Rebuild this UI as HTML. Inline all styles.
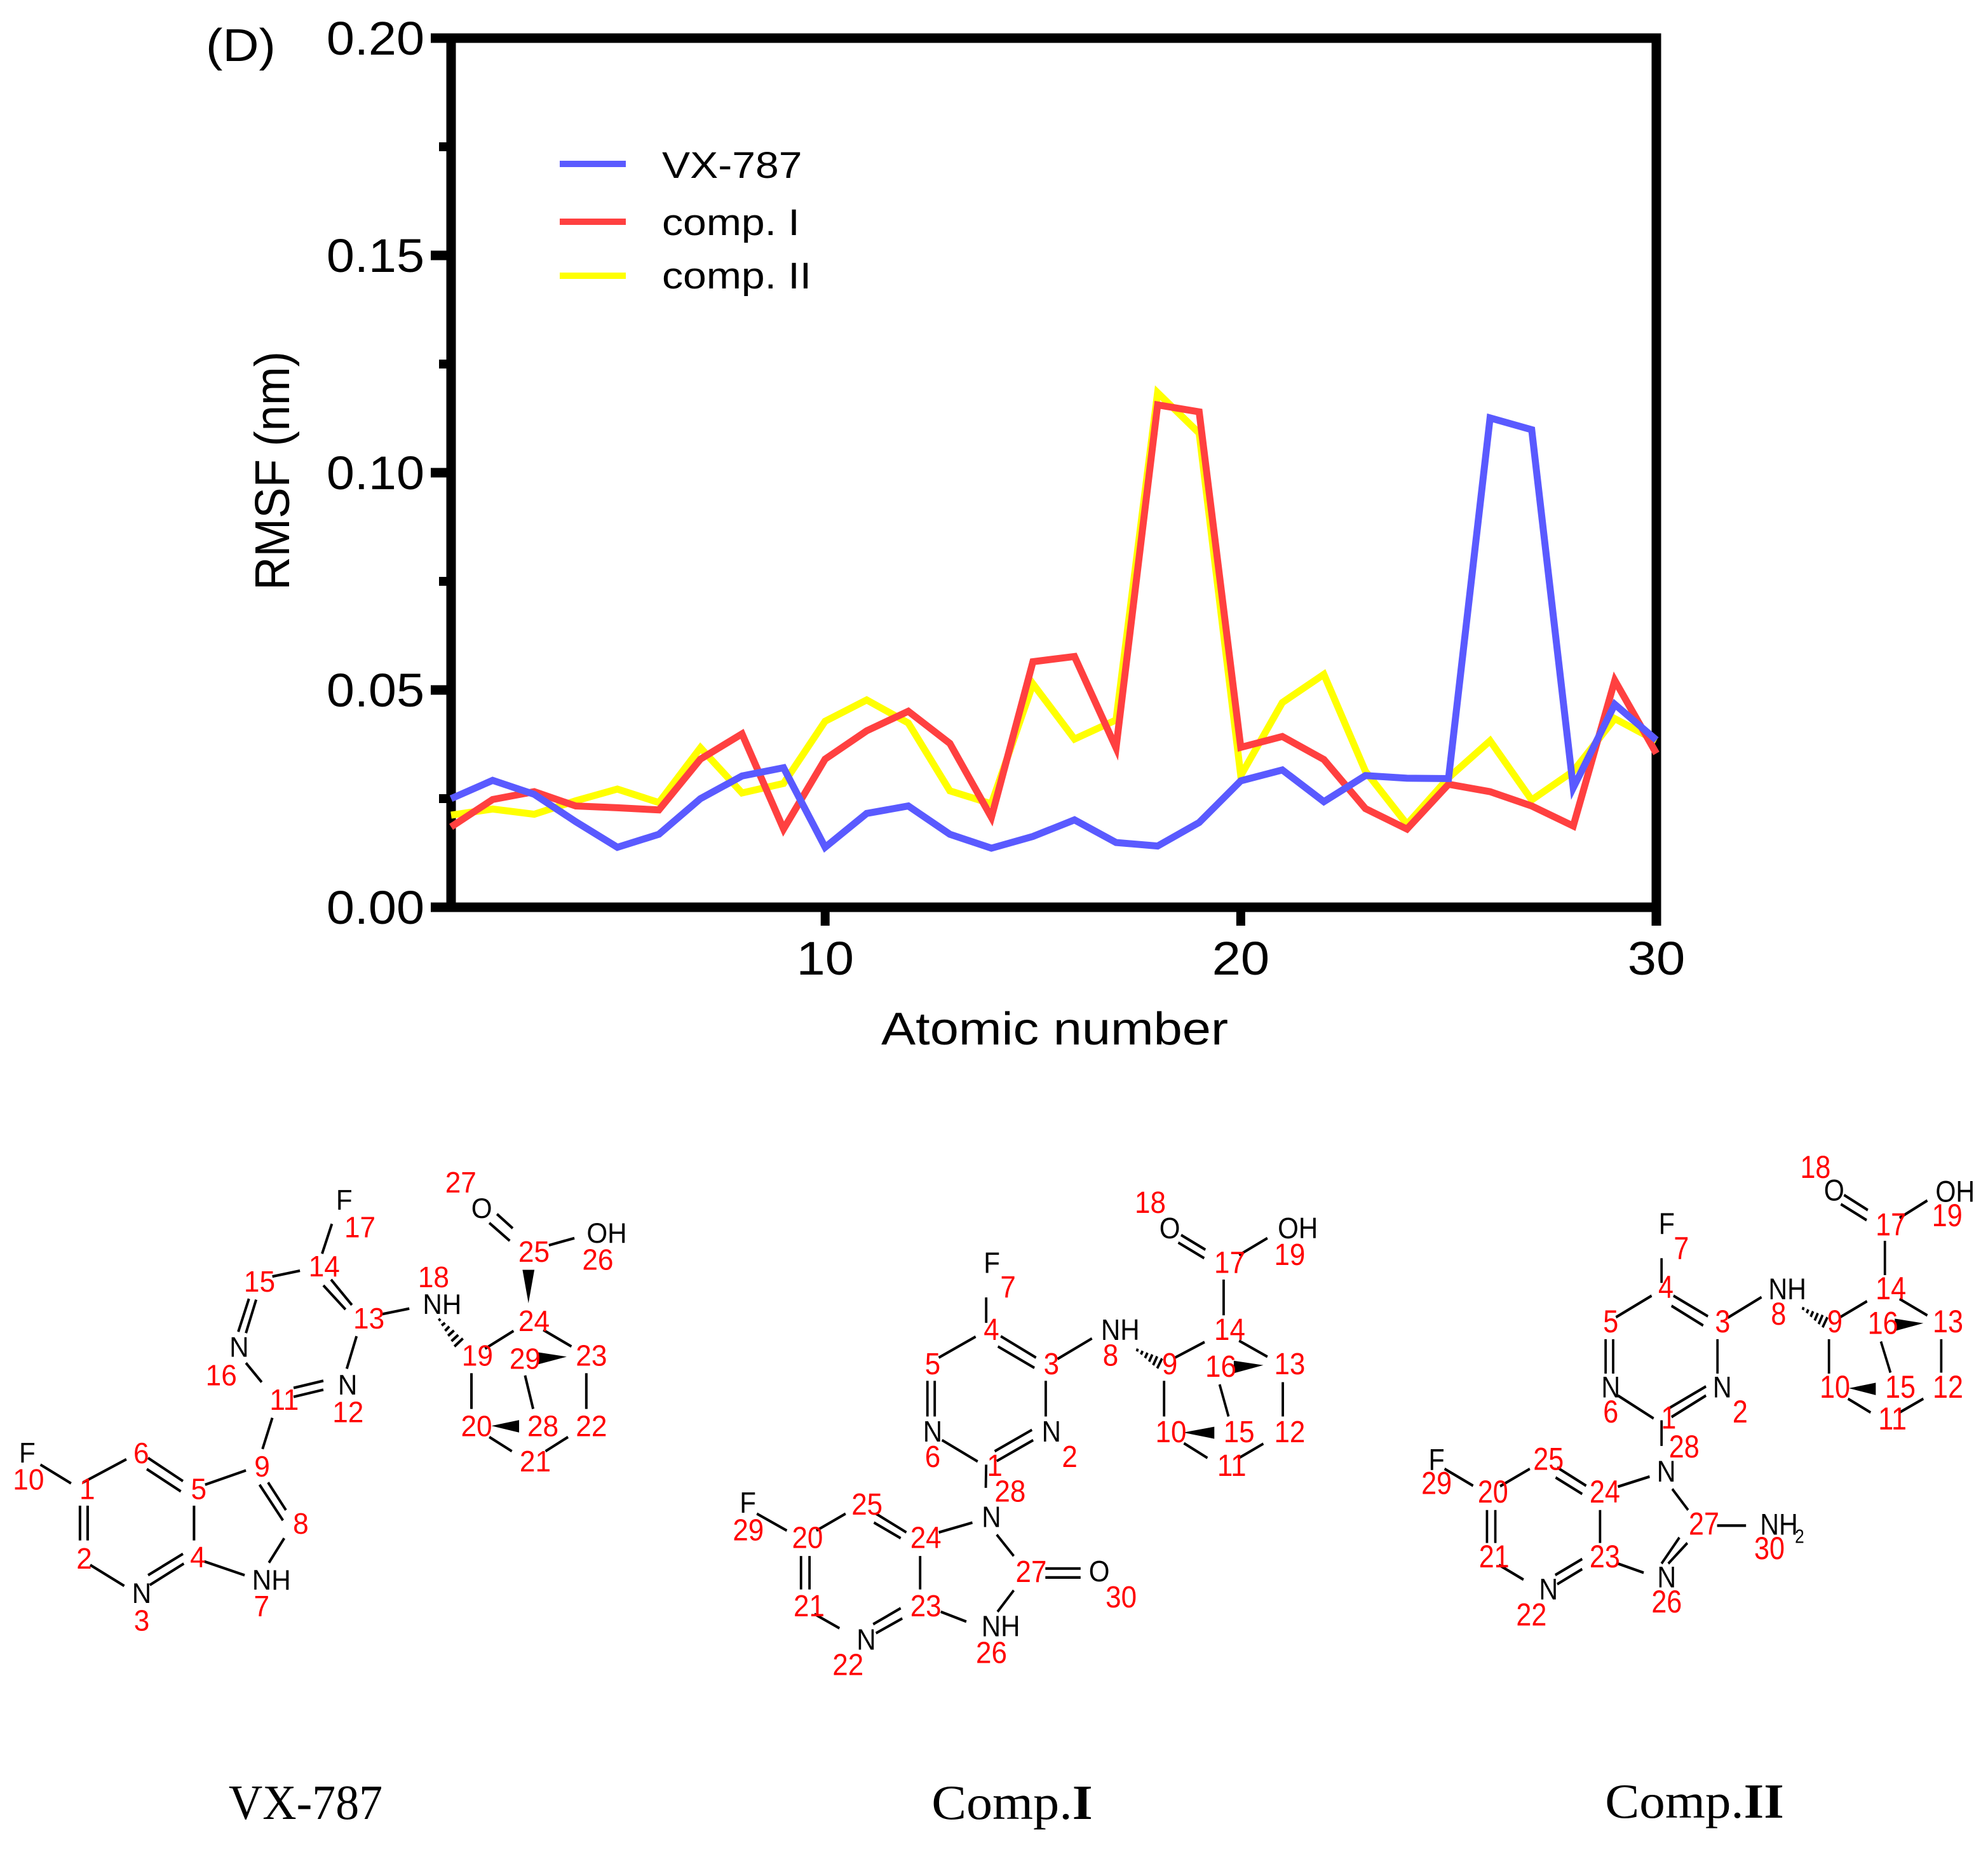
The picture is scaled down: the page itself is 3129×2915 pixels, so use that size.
<!DOCTYPE html>
<html lang="en">
<head>
<meta charset="utf-8">
<title>RMSF chart and compound structures</title>
<style>
html,body{margin:0;padding:0;background:#fff;width:3129px;height:2915px;overflow:hidden}
svg{position:absolute;left:0;top:0;display:block}
text{font-family:"Liberation Sans",Arial,sans-serif}
.caption{font-family:"Liberation Serif","Times New Roman",serif;font-size:77px;fill:#000;text-anchor:middle}
.bonds{fill:none;stroke:#000;stroke-width:6}
.wedge{fill:#000;stroke:none}
.num text{font-size:66px;fill:#ff0000;text-anchor:middle}
.atm text{font-size:63px;fill:#000;text-anchor:middle}
.wide .num text{font-size:69px}
.wide .atm text{font-size:66px}
</style>
</head>
<body>
<svg id="figure" width="3129" height="2915" viewBox="0 0 3129 2915" xmlns="http://www.w3.org/2000/svg">
<rect x="0" y="0" width="3129" height="2915" fill="#ffffff"/>
<text x="0" y="0" transform="translate(324,96) scale(1.1,1)" font-size="72" fill="#000">(D)</text>
<g id="chart"></g>
<text transform="translate(455,741) rotate(-90)" text-anchor="middle" font-size="77" textLength="376" lengthAdjust="spacingAndGlyphs" fill="#000">RMSF (nm)</text>
<text x="1660" y="1644" text-anchor="middle" font-size="72" textLength="546" lengthAdjust="spacingAndGlyphs" fill="#000">Atomic number</text>

<!-- VX-787 -->
<g transform="translate(0,1800) scale(0.6697,0.7018)">
<path class="bonds" d="M95 720L167 762M195 760L297 708M348 705L430 757M345 730L425 780M188 812L188 890M206 812L206 890M212 945L292 992M348 968L430 920M352 990L432 942M456 812L456 890M482 765L578 733M630 760L672 822M610 765L665 845M668 885L632 940M480 937L575 968M617 685L640 615M690 548L760 532M690 568L760 552M615 535L578 492M560 422L585 348M578 425L602 350M640 298L705 285M757 247L780 180M760 318L812 372M778 305L827 362M838 432L815 505M895 383L962 370M1140 460L1207 420M1108 515L1108 595M1150 658L1203 690M1282 690L1335 658M1378 595L1378 515M1343 455L1277 418M1168 158L1205 190M1150 178L1198 218M1290 228L1350 212M1234 520L1253 595M1031 397L1035 393M1038 408L1046 402M1046 420L1056 410M1053 431L1067 419M1061 443L1077 429M1068 455L1088 437"/>
<polygon class="wedge" points="1242,358 1228,283 1256,283"/>
<polygon class="wedge" points="1332,478 1265,468 1265,495"/>
<polygon class="wedge" points="1155,633 1220,620 1220,648"/>
<g class="atm">
<text x="64" y="715">F</text>
<text x="809" y="148">F</text>
<text x="333" y="1030">N</text>
<text x="638" y="1000">NH</text>
<text x="562" y="478">N</text>
<text x="817" y="563">N</text>
<text x="1039" y="382">NH</text>
<text x="1132" y="167">O</text>
<text x="1426" y="222">OH</text>
</g>
<g class="num">
<text x="205" y="797">1</text>
<text x="198" y="953">2</text>
<text x="333" y="1092">3</text>
<text x="465" y="950">4</text>
<text x="467" y="797">5</text>
<text x="332" y="717">6</text>
<text x="615" y="1060">7</text>
<text x="707" y="875">8</text>
<text x="616" y="747">9</text>
<text x="67" y="776">10</text>
<text x="668" y="597">11</text>
<text x="818" y="625">12</text>
<text x="867" y="415">13</text>
<text x="762" y="298">14</text>
<text x="610" y="332">15</text>
<text x="520" y="542">16</text>
<text x="846" y="210">17</text>
<text x="1019" y="322">18</text>
<text x="1122" y="498">19</text>
<text x="1120" y="656">20</text>
<text x="1258" y="735">21</text>
<text x="1390" y="656">22</text>
<text x="1390" y="498">23</text>
<text x="1255" y="420">24</text>
<text x="1255" y="265">25</text>
<text x="1405" y="283">26</text>
<text x="1083" y="110">27</text>
<text x="1276" y="656">28</text>
<text x="1234" y="505">29</text>
</g>
</g>
<text class="caption" transform="translate(481,2863) scale(0.96,1)">VX-787</text>

<!-- Comp.I -->
<g class="wide" transform="translate(1100,1800) scale(0.6378,0.7018)">
<path class="bonds" d="M709 345L709 402M683 433L592 480M738 455L828 503M745 432L832 480M564 532L564 612M582 532L582 612M856 532L856 612M885 483L970 437M600 665L688 713M730 690L822 642M735 712L825 665M709 720L708 772M675 850L592 872M437 830L512 872M432 850L498 885M362 830L290 868M217 868L143 830M252 925L252 1000M273 925L273 1000M285 1055L347 1087M430 1078L498 1042M437 1098L502 1065M546 925L546 1000M597 1050L660 1072M735 877L777 925M777 1002L737 1050M855 953L942 953M855 973L942 973M1175 480L1248 445M1148 532L1148 612M1197 672L1255 705M1333 705L1393 673M1441 612L1441 535M1333 442L1403 478M1295 385L1295 305M1190 205L1250 238M1183 222L1247 257M1333 250L1403 212M1285 540L1307 612M1081 466L1083 460M1091 473L1095 465M1101 481L1107 469M1111 489L1119 473M1121 497L1131 477M1131 504L1143 482"/>
<polygon class="wedge" points="1393,497 1320,487 1320,515"/>
<polygon class="wedge" points="1195,648 1272,635 1272,662"/>
<g class="atm">
<text x="723" y="290">F</text>
<text x="1040" y="440">NH</text>
<text x="577" y="668">N</text>
<text x="870" y="668">N</text>
<text x="722" y="860">N</text>
<text x="121" y="828">F</text>
<text x="1162" y="212">O</text>
<text x="1478" y="212">OH</text>
<text x="745" y="1105">NH</text>
<text x="413" y="1135">N</text>
<text x="988" y="982">O</text>
</g>
<g class="num">
<text x="730" y="745">1</text>
<text x="915" y="725">2</text>
<text x="870" y="517">3</text>
<text x="722" y="440">4</text>
<text x="577" y="517">5</text>
<text x="577" y="725">6</text>
<text x="763" y="345">7</text>
<text x="1016" y="498">8</text>
<text x="1162" y="517">9</text>
<text x="1165" y="670">10</text>
<text x="1315" y="745">11</text>
<text x="1458" y="670">12</text>
<text x="1458" y="517">13</text>
<text x="1310" y="440">14</text>
<text x="1333" y="670">15</text>
<text x="1288" y="523">16</text>
<text x="1310" y="290">17</text>
<text x="1114" y="155">18</text>
<text x="1458" y="272">19</text>
<text x="268" y="907">20</text>
<text x="272" y="1060">21</text>
<text x="368" y="1192">22</text>
<text x="560" y="1060">23</text>
<text x="560" y="907">24</text>
<text x="415" y="832">25</text>
<text x="722" y="1165">26</text>
<text x="820" y="983">27</text>
<text x="768" y="803">28</text>
<text x="122" y="890">29</text>
<text x="1042" y="1040">30</text>
</g>
</g>
<text class="caption" transform="translate(1593,2863) scale(1.068,1)">Comp.<tspan font-weight="bold">I</tspan></text>

<!-- Comp.II -->
<g class="wide" transform="translate(2150,1780) scale(0.6244,0.7207)">
<path class="bonds" d="M745 278L745 332M720 360L630 407M775 360L862 405M770 382L850 425M604 455L604 530M623 455L623 530M886 455L886 530M912 408L997 363M635 578L725 628M765 605L857 558M770 625L857 578M745 632L745 688M715 755L635 777M482 735L555 775M478 757L545 793M413 738L338 776M270 775L198 738M305 828L305 900M326 828L326 900M335 948L397 980M477 970L545 935M482 990L545 957M590 828L590 900M635 945L700 965M772 782L812 828M885 862L958 862M790 888L745 945M810 900L762 945M1193 408L1263 372M1167 455L1167 530M1215 585L1272 615M1345 615L1405 585M1450 528L1450 455M1345 367L1415 403M1308 315L1308 240M1205 140L1265 173M1197 160L1262 195M1345 190L1415 152M1298 460L1322 528M1101 391L1103 385M1111 398L1115 390M1121 406L1127 394M1131 414L1139 398M1141 422L1151 402M1151 429L1163 407"/>
<polygon class="wedge" points="1405,420 1333,410 1333,437"/>
<polygon class="wedge" points="1217,562 1285,550 1285,577"/>
<g class="atm">
<text x="758" y="225">F</text>
<text x="1062" y="368">NH</text>
<text x="617" y="582">N</text>
<text x="898" y="582">N</text>
<text x="757" y="766">N</text>
<text x="178" y="740">F</text>
<text x="1180" y="152">O</text>
<text x="1485" y="155">OH</text>
<text x="758" y="997">N</text>
<text x="460" y="1023">N</text>
<text x="1041" y="882">NH</text>
<text x="1093" y="900" style="font-size:42px">2</text>
</g>
<g class="num">
<text x="763" y="650">1</text>
<text x="943" y="637">2</text>
<text x="899" y="440">3</text>
<text x="756" y="365">4</text>
<text x="617" y="440">5</text>
<text x="617" y="637">6</text>
<text x="795" y="280">7</text>
<text x="1040" y="423">8</text>
<text x="1182" y="440">9</text>
<text x="1182" y="583">10</text>
<text x="1327" y="652">11</text>
<text x="1467" y="583">12</text>
<text x="1467" y="440">13</text>
<text x="1323" y="368">14</text>
<text x="1347" y="583">15</text>
<text x="1303" y="443">16</text>
<text x="1323" y="228">17</text>
<text x="1133" y="103">18</text>
<text x="1465" y="208">19</text>
<text x="320" y="812">20</text>
<text x="323" y="953">21</text>
<text x="417" y="1080">22</text>
<text x="602" y="953">23</text>
<text x="602" y="812">24</text>
<text x="460" y="740">25</text>
<text x="758" y="1052">26</text>
<text x="852" y="882">27</text>
<text x="802" y="713">28</text>
<text x="178" y="793">29</text>
<text x="1017" y="935">30</text>
</g>
</g>
<text class="caption" transform="translate(2667,2861) scale(1.053,1)">Comp.<tspan font-weight="bold">II</tspan></text>
</svg>

<script>
var atomNumbers = [1,2,3,4,5,6,7,8,9,10,11,12,13,14,15,16,17,18,19,20,21,22,23,24,25,26,27,28,29,30];
var vx787Values = [0.0250,0.0292,0.0260,0.0197,0.0138,0.0168,0.0250,0.0302,0.0321,0.0138,0.0216,0.0233,0.0168,0.0136,0.0163,0.0201,0.0149,0.0141,0.0195,0.0291,0.0316,0.0243,0.0303,0.0297,0.0296,0.1126,0.1099,0.0275,0.0467,0.0385];
var compIValues = [0.0185,0.0248,0.0266,0.0233,0.0229,0.0224,0.0341,0.0399,0.0180,0.0341,0.0406,0.0451,0.0377,0.0207,0.0565,0.0577,0.0367,0.1156,0.1140,0.0368,0.0393,0.0340,0.0227,0.0180,0.0283,0.0266,0.0233,0.0187,0.0522,0.0354];
var compIIValues = [0.0212,0.0226,0.0214,0.0245,0.0272,0.0241,0.0367,0.0263,0.0285,0.0428,0.0477,0.0424,0.0268,0.0238,0.0514,0.0387,0.0431,0.1184,0.1091,0.0303,0.0471,0.0536,0.0313,0.0191,0.0298,0.0383,0.0247,0.0313,0.0434,0.0383];
var seriesNames = ['VX-787','comp. I','comp. II'];
var yTickValues = [0,0.05,0.10,0.15,0.20];
var yTickLabels = ['0.00','0.05','0.10','0.15','0.20'];
var yMinorTickValues = [0.025,0.075,0.125,0.175];
var xTickValues = [10,20,30];
var xTickLabels = ['10','20','30'];

var SVGNS = 'http://www.w3.org/2000/svg';
var chart = document.getElementById('chart');

function xScale(v){ return 710 + (v - 1) * (2607 - 710) / 29; }
function yScale(v){ return 1428 - v * (1428 - 60) / 0.2; }

function rect(x, y, w, h){
  var r = document.createElementNS(SVGNS, 'rect');
  r.setAttribute('x', x);
  r.setAttribute('y', y);
  r.setAttribute('width', w);
  r.setAttribute('height', h);
  r.setAttribute('fill', '#000');
  chart.appendChild(r);
  return r;
}
function label(str, x, y, anchor, size, sx){
  var t = document.createElementNS(SVGNS, 'text');
  t.textContent = str;
  t.setAttribute('transform', 'translate(' + x + ',' + y + ') scale(' + sx + ',1)');
  t.setAttribute('text-anchor', anchor);
  t.setAttribute('font-size', size);
  t.setAttribute('fill', '#000');
  chart.appendChild(t);
  return t;
}

var el;
el = rect(678, yScale(0.2) - 7.5, 2614.5 - 678, 15);


el = rect(678, yScale(0) - 7.5, 2614.5 - 678, 15);


el = rect(xScale(1) - 7.5, yScale(0.2), 15, yScale(0) - yScale(0.2));


el = rect(xScale(30) - 7.5, yScale(0.2) - 7.5, 15, 1457 - yScale(0.2) + 7.5);



yTickValues.forEach(function(v, i){
  var tick = rect(678, yScale(v) - 7.5, 32, 15);
  
  
  var lab = label(yTickLabels[i], 668, yScale(v) + 26, 'end', 74, 1.07);
  
  
});
yMinorTickValues.forEach(function(v){
  var tick = rect(691, yScale(v) - 7, 19, 14);
  
  
});
xTickValues.forEach(function(v, i){
  var tick = rect(xScale(v) - 7, 1428, 14, 29);
  
  
  var lab = label(xTickLabels[i], xScale(v), 1534, 'middle', 74, 1.1);
  
  
});

function drawSeries(values, color, name){
  var pts = values.map(function(v, i){
    return xScale(atomNumbers[i]).toFixed(1) + ',' + yScale(v).toFixed(1);
  }).join(' ');
  var line = document.createElementNS(SVGNS, 'polyline');
  line.setAttribute('points', pts);
  line.setAttribute('fill', 'none');
  line.setAttribute('stroke', color);
  line.setAttribute('stroke-width', '11');
  line.setAttribute('stroke-linejoin', 'miter');
  line.setAttribute('stroke-miterlimit', '10');
  
  
  chart.appendChild(line);
}
drawSeries(compIIValues, '#ffff00', 'series-comp-ii');
drawSeries(compIValues, '#ff4040', 'series-comp-i');
drawSeries(vx787Values, '#5a5aff', 'series-vx-787');

function legendEntry(i, color, lineY, textY){
  var g = document.createElementNS(SVGNS, 'g');
  
  
  var sw = document.createElementNS(SVGNS, 'rect');
  sw.setAttribute('x', 881);
  sw.setAttribute('y', lineY - 5);
  sw.setAttribute('width', 104);
  sw.setAttribute('height', 10);
  sw.setAttribute('fill', color);
  
  
  g.appendChild(sw);
  var t = document.createElementNS(SVGNS, 'text');
  t.textContent = seriesNames[i];
  t.setAttribute('transform', 'translate(1042,' + textY + ') scale(1.14,1)');
  t.setAttribute('font-size', '58');
  t.setAttribute('fill', '#000');
  
  
  g.appendChild(t);
  chart.appendChild(g);
}
legendEntry(0, '#5a5aff', 258, 280);
legendEntry(1, '#ff4040', 349, 370);
legendEntry(2, '#ffff00', 434, 454);
</script>
</body>
</html>
